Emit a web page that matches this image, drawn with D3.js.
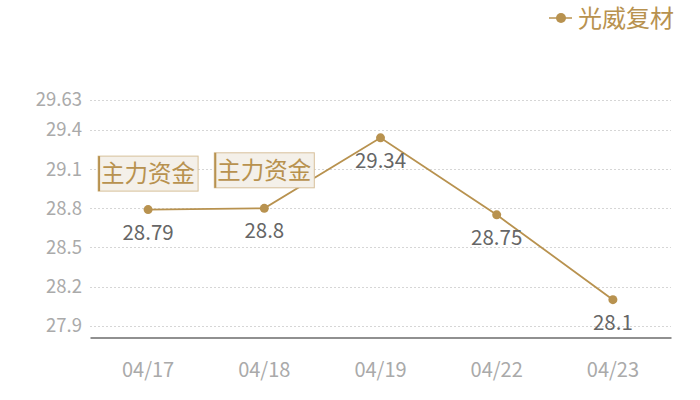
<!DOCTYPE html>
<html><head><meta charset="utf-8">
<script src="https://cdn.jsdelivr.net/npm/d3@7/dist/d3.min.js"></script>
<style>body{margin:0;background:#fff;}svg{display:block;font-family:"Noto Sans CJK SC","Noto Sans",sans-serif;}</style>
</head><body><svg id="c" width="700" height="400"></svg>
<script>
const categories = ["04/17","04/18","04/19","04/22","04/23"];
const values = [28.79, 28.8, 29.34, 28.75, 28.1];
const yTicks = [27.9, 28.2, 28.5, 28.8, 29.1, 29.4, 29.63];
const seriesName = "光威复材";
const annotations = [{cat:"04/17", text:"主力资金", dy:-36}, {cat:"04/18", text:"主力资金", dy:-38}];

const gold = "#b8924f";
const svg = d3.select("#c");
const x = d3.scaleBand().domain(categories).range([90, 671]);
const y = d3.scaleLinear().domain([27.81, 29.63]).range([337.5, 100]);
const cx = d => x(d) + x.bandwidth()/2;

// grid
svg.append("g").selectAll("line").data(yTicks).join("line")
  .attr("x1", 90).attr("x2", 671)
  .attr("y1", d => Math.round(y(d))+0.5).attr("y2", d => Math.round(y(d))+0.5)
  .attr("stroke", "#d6d6d6").attr("stroke-dasharray", "2,2");

// y axis labels
svg.append("g").selectAll("text").data(yTicks).join("text")
  .attr("x", 82).attr("y", d => y(d)).attr("dy", "0.35em")
  .attr("text-anchor", "end").attr("fill", "#aaaaaa").attr("font-size", 18.5)
  .text(d => d);

// x axis
const xa = svg.append("g").attr("transform", "translate(0,337.5)")
  .call(d3.axisBottom(x).tickSize(0).tickPadding(25));
xa.select(".domain").attr("stroke", "#222").attr("stroke-width", 1.2);
xa.selectAll("text").attr("fill", "#aaaaaa").attr("font-size", 20)
  .attr("font-family", "'Noto Sans CJK SC','Noto Sans',sans-serif");

// line
const line = d3.line().x((d,i) => cx(categories[i])).y(d => y(d));
svg.append("path").datum(values).attr("d", line)
  .attr("fill", "none").attr("stroke", gold).attr("stroke-width", 1.8);

svg.append("g").selectAll("circle").data(values).join("circle")
  .attr("cx", (d,i) => cx(categories[i])).attr("cy", d => y(d)).attr("r", 4.5)
  .attr("fill", gold);

svg.append("g").selectAll("text").data(values).join("text")
  .attr("x", (d,i) => cx(categories[i])).attr("y", d => y(d) + 23)
  .attr("dy", "0.35em").attr("text-anchor", "middle")
  .attr("fill", "#666").attr("font-size", 20.5).text(d => d);

// annotations
annotations.forEach(a => {
  const i = categories.indexOf(a.cat);
  const px = cx(a.cat), py = y(values[i]) + a.dy;
  const g = svg.append("g");
  g.append("rect").attr("x", px-50).attr("y", py-17.5).attr("width", 100).attr("height", 35)
    .attr("fill", "#f4f0e9").attr("stroke", "#d7c09a").attr("stroke-width", 1);
  g.append("line").attr("x1", px-49).attr("x2", px-49).attr("y1", py-17.5).attr("y2", py+17.5)
    .attr("stroke", gold).attr("stroke-width", 2);
  g.append("text").attr("x", px).attr("y", py).attr("dy", "0.36em")
    .attr("text-anchor", "middle").attr("fill", gold).attr("font-size", 23.5).text(a.text);
});

// legend
const lg = svg.append("g");
lg.append("line").attr("x1", 549).attr("x2", 572).attr("y1", 18).attr("y2", 18)
  .attr("stroke", gold).attr("stroke-width", 1.5);
lg.append("circle").attr("cx", 561).attr("cy", 18).attr("r", 5).attr("fill", gold);
lg.append("text").attr("x", 578).attr("y", 18).attr("dy", "0.36em")
  .attr("fill", gold).attr("font-size", 24).text(seriesName);
</script></body></html>
